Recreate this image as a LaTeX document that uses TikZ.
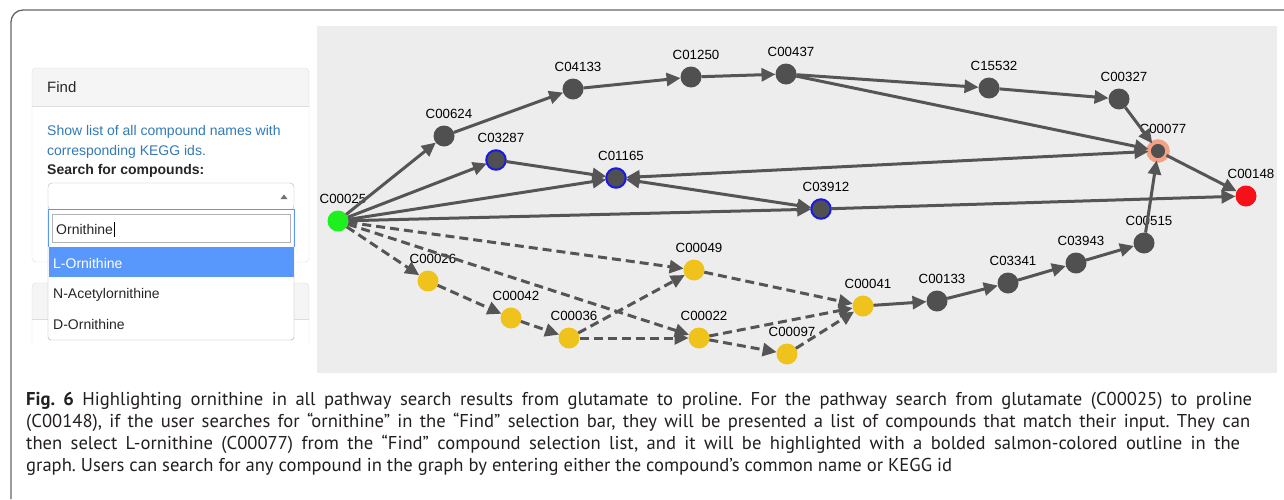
\documentclass[tikz,border=0pt]{standalone}
\usepackage{fontspec}
\setmainfont{Liberation Sans}
\newfontfamily\capfont{PT Sans}
\usetikzlibrary{arrows.meta}
\frenchspacing
\definecolor{edgegray}{HTML}{555555}
\definecolor{nodegray}{HTML}{505050}
\definecolor{bggray}{HTML}{EDEDED}
\definecolor{ygold}{HTML}{F0C21C}
\definecolor{lgreen}{HTML}{1EF01E}
\definecolor{pred}{HTML}{F5101A}
\definecolor{bblue}{HTML}{1A1AE6}
\definecolor{salmon}{HTML}{F4A285}
\definecolor{linkblue}{HTML}{337AB7}
\definecolor{selblue}{HTML}{5897FB}
\definecolor{panelborder}{HTML}{DDDDDD}
\definecolor{panelhead}{HTML}{F5F5F5}
\definecolor{framegray}{HTML}{666666}
\definecolor{captext}{HTML}{231F20}
\tikzset{
  cpd/.style={circle, inner sep=0pt, outer sep=0pt, minimum size=21pt, fill=nodegray},
  bluering/.style={draw=bblue, line width=2pt, minimum size=19.5pt},
  salmonring/.style={draw=salmon, line width=4.5pt, minimum size=19pt},
  yel/.style={fill=ygold},
  grn/.style={fill=lgreen},
  rd/.style={fill=pred},
  lab/.style={font=\fontsize{13.3}{13.3}\selectfont, inner sep=0pt, anchor=base, text=black},
  edge/.style={draw=edgegray, line width=3pt, -{Triangle[length=14pt,width=13pt]}},
  bidir/.style={draw=edgegray, line width=3pt, {Triangle[length=14pt,width=13pt]}-{Triangle[length=14pt,width=13pt]}},
  dedge/.style={edge, dash pattern=on 9pt off 5pt},
  ptext/.style={inner sep=0pt, anchor=base west, font=\fontsize{14}{14}\selectfont},
  capline/.style={inner sep=0pt, anchor=base west, text=captext, font=\capfont\fontsize{18.6}{18.6}\selectfont},
}
\newcommand\cpdnode[4]{\node[cpd,#4] (#1) at (#2,#3) {}; \node[lab] (#1-l) at (#2+5,#3-17.4) {#1};}
\begin{document}
\begin{tikzpicture}[x=1pt,y=-1pt]
\useasboundingbox (0,0) rectangle (1284,499);
\fill[white] (0,0) rectangle (1284,499);
% outer frame
\draw[framegray, line width=1.3pt, rounded corners=12pt] (11,499) -- (11,10) -- (1284,10);
% graph background
\fill[bggray] (317,26) rectangle (1277,373);

% ---------- left panel ----------
% second panel (behind dropdown), clipped
\begin{scope}
  \clip (20,270) rectangle (320,343);
  \fill[panelhead] (32,319) [rounded corners=4pt]-- (32,283) -- (309,283) [sharp corners]-- (309,319) -- cycle;
  \draw[panelborder, rounded corners=4pt] (32,400) -- (32,283) -- (309,283) -- (309,400);
  \draw[panelborder] (32,319) -- (309,319);
\end{scope}
% Find panel
\fill[white, rounded corners=4pt] (32,68) rectangle (309,262);
\fill[panelhead] (32,106) [rounded corners=4pt]-- (32,68) -- (309,68) [sharp corners]-- (309,106) -- cycle;
\draw[panelborder, rounded corners=4pt] (32,68) rectangle (309,262);
\draw[panelborder] (32,106) -- (309,106);
\node[ptext, font=\fontsize{15}{15}\selectfont, text=black!85] (findt) at (47,92.5) {Find};
\node[ptext, text=linkblue] (show1) at (47,135) {Show list of all compound names with};
\node[ptext, text=linkblue] (show2) at (47,155) {corresponding KEGG ids.};
\node[ptext, text=black!85, font=\bfseries\fontsize{14}{14}\selectfont] (srchlab) at (47,174) {Search for compounds:};
% select box
\draw[black!30, fill=white, rounded corners=4pt] (48,183) rectangle (294,210);
\fill[black!55] (280.5,199) -- (287.5,199) -- (284,194.5) -- cycle;
% dropdown
\draw[black!35, fill=white, rounded corners=3pt] (48,209) -- (48,340) -- (294,340) -- (294,209);
\draw[selblue, line width=1pt] (48,247) -- (48,209.5) -- (294,209.5) -- (294,247);
\draw[black!30, fill=white] (52,214) rectangle (290,242);
\node[ptext, text=black!85] (srch) at (56,234) {Ornithine};
\draw[black, line width=0.7pt] ([xshift=1pt]srch.base east) ++(0,3) -- ++(0,-15);
\fill[selblue] (48.5,247) rectangle (293.5,277);
\node[ptext, text=white] (opt1) at (53,268) {L-Ornithine};
\node[ptext, text=black!85] (opt2) at (53,298.5) {N-Acetylornithine};
\node[ptext, text=black!85] (opt3) at (53,329.5) {D-Ornithine};

% ---------- graph nodes ----------
\cpdnode{C00025}{338}{221}{grn}
\cpdnode{C00624}{444}{136}{}
\cpdnode{C04133}{573}{89}{}
\cpdnode{C01250}{691}{77}{}
\cpdnode{C00437}{786}{74}{}
\cpdnode{C15532}{989}{88}{}
\cpdnode{C00327}{1119}{99}{}
\cpdnode{C00077}{1158}{151}{salmonring}
\cpdnode{C00148}{1246}{196}{rd}
\cpdnode{C03287}{496}{160}{bluering}
\cpdnode{C01165}{616}{178}{bluering}
\cpdnode{C03912}{821}{209}{bluering}
\cpdnode{C00515}{1144}{243}{}
\cpdnode{C03943}{1076}{263}{}
\cpdnode{C03341}{1008}{283}{}
\cpdnode{C00133}{937}{301}{}
\cpdnode{C00041}{863}{306}{yel}
\cpdnode{C00049}{694}{270}{yel}
\cpdnode{C00026}{428}{281}{yel}
\cpdnode{C00042}{511}{318}{yel}
\cpdnode{C00036}{569}{338}{yel}
\cpdnode{C00022}{699}{338}{yel}
\cpdnode{C00097}{787}{354}{yel}

% ---------- solid edges ----------
\draw[edge] (C00025) -- (C00624);
\draw[edge] (C00624) -- (C04133);
\draw[edge] (C04133) -- (C01250);
\draw[edge] (C01250) -- (C00437);
\draw[edge] (C00437) -- (C15532);
\draw[edge] (C15532) -- (C00327);
\draw[edge] (C00327) -- (C00077);
\draw[edge] (C00437) -- (C00077);
\draw[edge] (C00025) -- (C03287);
\draw[edge] (C03287) -- (C01165);
\draw[edge] (C00025) -- (C01165);
\draw[bidir] (C01165) -- (C00077);
\draw[bidir] (C01165) -- (C03912);
\draw[edge] (C00025) -- (C03912);
\draw[edge] (C03912) -- (C00148);
\draw[edge] (C00077) -- (C00148);
\draw[edge] (C00515) -- (C00077);
\draw[edge] (C03943) -- (C00515);
\draw[edge] (C03341) -- (C03943);
\draw[edge] (C00133) -- (C03341);
\draw[edge] (C00041) -- (C00133);
% ---------- dashed edges ----------
\draw[dedge] (C00025) -- (C00026);
\draw[dedge] (C00025) -- (C00049);
\draw[dedge] (C00025) -- (C00022);
\draw[dedge] (C00026) -- (C00042);
\draw[dedge] (C00042) -- (C00036);
\draw[dedge] (C00036) -- (C00049);
\draw[dedge] (C00036) -- (C00022);
\draw[dedge] (C00049) -- (C00041);
\draw[dedge] (C00022) -- (C00041);
\draw[dedge] (C00022) -- (C00097);
\draw[dedge] (C00097) -- (C00041);

% ---------- caption ----------
\node[capline] (cap1) at (26,405) {\makebox[1226pt][s]{\textbf{Fig. 6} Highlighting ornithine in all pathway search results from glutamate to proline. For the pathway search from glutamate (C00025) to proline}};
\node[capline] (cap2) at (26,427) {\makebox[1224pt][s]{(C00148), if the user searches for “ornithine” in the “Find” selection bar, they will be presented a list of compounds that match their input. They can}};
\node[capline] (cap3) at (26,449) {\makebox[1214pt][s]{then select L-ornithine (C00077) from the “Find” compound selection list, and it will be highlighted with a bolded salmon-colored outline in the}};
\node[capline] (cap4) at (26,471) {graph. Users can search for any compound in the graph by entering either the compound’s common name or KEGG id};
\end{tikzpicture}
\end{document}
